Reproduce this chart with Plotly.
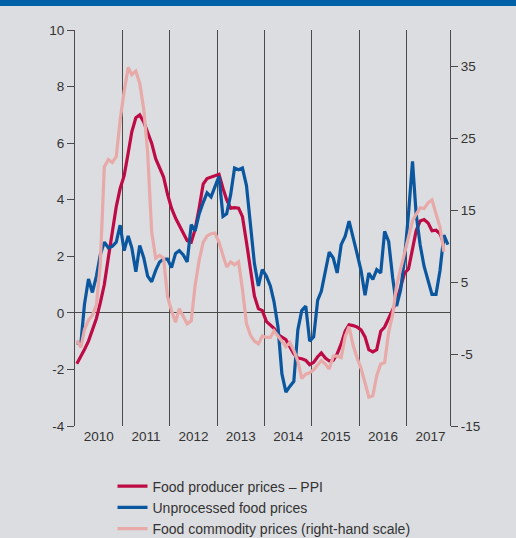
import plotly.graph_objects as go

# Monthly series, Jan 2010 onwards (percent change year-on-year)
ppi = [-1.8, -1.55, -1.3, -1.0, -0.6, -0.2, 0.35, 1.0, 1.95, 2.9, 3.75, 4.4,
       4.85, 5.65, 6.4, 6.9, 7.0, 6.75, 6.4, 6.0, 5.45, 5.1, 4.8, 4.2,
       3.7, 3.35, 3.1, 2.8, 2.55, 2.5, 2.95, 3.7, 4.55, 4.75, 4.8, 4.85,
       4.9, 4.4, 4.0, 3.7, 3.72, 3.7, 3.4, 2.5, 1.5, 0.6, 0.15, 0.08,
       -0.3, -0.45, -0.55, -0.77, -0.85, -0.95, -1.2, -1.45, -1.6, -1.62, -1.68, -1.83,
       -1.75, -1.55, -1.42, -1.6, -1.7, -1.68, -1.45, -1.1, -0.65, -0.42, -0.45, -0.5,
       -0.6, -0.85, -1.3, -1.38, -1.3, -0.65, -0.5, -0.2, 0.1, 0.4, 0.9, 1.4,
       1.55, 2.2, 2.9, 3.25, 3.3, 3.18, 2.9, 2.92, 2.8, 2.45]

unprocessed = [-1.06, -1.1, 0.3, 1.2, 0.72, 1.3, 2.05, 2.5, 2.3, 2.35, 2.5, 3.1,
               2.2, 2.72, 2.3, 1.45, 2.38, 1.95, 1.3, 1.1, 1.5, 1.8, 1.9, 1.9,
               1.6, 2.1, 2.2, 2.05, 1.8, 3.12, 2.9, 3.5, 3.9, 4.24, 4.1, 4.5,
               4.83, 3.41, 3.5, 4.18, 5.12, 5.06, 5.12, 4.5, 3.0, 1.75, 0.95, 1.53,
               1.3, 0.95, 0.4, -0.5, -2.15, -2.8, -2.6, -2.42, -0.6, 0.08, 0.24, -1.0,
               -0.85, 0.45, 0.76, 1.5, 2.15, 1.94, 1.41, 2.41, 2.71, 3.24, 2.7, 2.1,
               1.5, 0.62, 1.41, 1.18, 1.53, 1.41, 2.88, 2.53, 1.24, 0.24, 0.8, 1.9,
               3.5, 5.36, 3.5, 2.4, 1.65, 1.1, 0.65, 0.65, 1.5, 2.75, 2.41]

commodity = [-3.1, -4.1, -1.6, -0.3, 0.4, 1.8, 7.5, 21.0, 22.0, 21.6, 22.4, 27.5,
             31.5, 34.8, 33.8, 34.3, 32.6, 29.0, 23.0, 12.0, 8.3, 8.7, 8.3, 3.0,
             1.0, -0.6, 1.3, 0.2, -0.8, -0.4, 4.5, 8.0, 10.5, 11.4, 11.7, 11.8,
             10.5, 8.7, 7.1, 7.8, 7.4, 7.8, 4.0, -0.8, -2.4, -3.2, -3.6, -2.5,
             -2.7, -2.7, -1.8, -2.5, -3.3, -4.0, -3.4, -4.5, -6.0, -8.4, -7.8, -7.6,
             -7.2, -6.6, -5.9, -6.4, -7.1, -5.3, -5.3, -5.5, -2.6, -1.2, -3.8, -5.5,
             -7.0, -9.0, -11.0, -10.8, -8.0, -6.4, -6.2, -2.0, 0.5, 4.5, 6.8, 9.0,
             11.0, 13.5, 14.4, 15.3, 15.2, 16.0, 16.4, 14.5, 12.6, 9.2]

series_names = ["Food producer prices \u2013 PPI",
                "Unprocessed food prices",
                "Food commodity prices (right-hand scale)"]

left_ticks = [-4, -2, 0, 2, 4, 6, 8, 10]
right_ticks = [-15, -5, 5, 15, 25, 35]


def month_dates(n):
    return [f"{2010 + i // 12}-{i % 12 + 1:02d}-15" for i in range(n)]


RED = "#be0a45"
BLUE = "#0a579f"
PINK = "#e8a9a9"
BG = "#dcdde0"
AX = "#4a4a4a"
TXT = "#333333"
FONT = "Liberation Sans, Arial, sans-serif"

fig = go.Figure()
fig.add_trace(go.Scatter(x=month_dates(len(ppi)), y=ppi, mode="lines",
                         name=series_names[0], legendrank=1,
                         line=dict(color=RED, width=3.2)))
fig.add_trace(go.Scatter(x=month_dates(len(commodity)), y=commodity, mode="lines",
                         name=series_names[2], legendrank=3, yaxis="y2",
                         line=dict(color=PINK, width=3.2)))
fig.add_trace(go.Scatter(x=month_dates(len(unprocessed)), y=unprocessed, mode="lines",
                         name=series_names[1], legendrank=2,
                         line=dict(color=BLUE, width=3.2)))

fig.update_layout(
    width=516, height=538,
    margin=dict(l=75, r=66, t=30, b=112, autoexpand=False),
    paper_bgcolor=BG, plot_bgcolor=BG,
    font=dict(family=FONT, size=13, color=TXT),
    showlegend=True,
    legend=dict(x=0.1, y=-0.1125, xanchor="left", yanchor="top",
                bgcolor="rgba(0,0,0,0)", font=dict(size=14, color=TXT),
                tracegroupgap=0),
    xaxis=dict(type="date", range=["2010-01-01", "2017-12-01"],
               showgrid=True, gridcolor=AX, gridwidth=1,
               dtick="M12", tick0="2010-01-01", tickformat="%Y",
               ticklabelmode="period", ticks="", showline=False, zeroline=False,
               automargin=False,
               tickfont=dict(size=13.5, color=TXT)),
    yaxis=dict(range=[-4, 10], tickvals=left_ticks,
               ticktext=[str(v) for v in left_ticks],
               ticks="outside", ticklen=7, tickcolor=AX, tickwidth=1,
               showline=True, linecolor=AX, linewidth=1, automargin=False,
               showgrid=False, zeroline=True, zerolinecolor=AX, zerolinewidth=1,
               tickfont=dict(size=13.5, color=TXT)),
    yaxis2=dict(overlaying="y", side="right", range=[-15, 40],
                tickvals=right_ticks, ticktext=[str(v) for v in right_ticks],
                ticks="outside", ticklen=7, tickcolor=AX, tickwidth=1,
                showline=True, linecolor=AX, linewidth=1, automargin=False,
                showgrid=False, zeroline=False,
                tickfont=dict(size=13.5, color=TXT)),
    shapes=[dict(type="rect", xref="paper", yref="paper",
                 x0=-0.3, x1=1.3, y0=1 + 24 / 396, y1=1 + 31 / 396,
                 fillcolor="#0061a8", line=dict(width=0), layer="above")],
)

fig.write_html("out.html",
               config={"displayModeBar": False},
               post_script="document.body.style.margin='0';"
                           "document.body.style.overflow='hidden';")
